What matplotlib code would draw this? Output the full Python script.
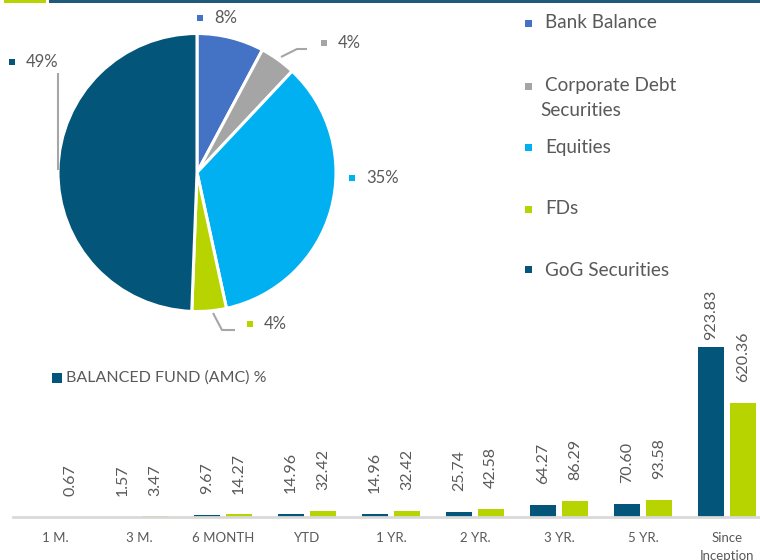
import matplotlib
matplotlib.use("Agg")
import matplotlib.pyplot as plt
from matplotlib.patches import Rectangle
import numpy as np

plt.rcParams['font.family'] = ['Lato', 'DejaVu Sans']

# ---- data ----
pie_labels = ["Bank Balance", "Corporate Debt\nSecurities", "Equities", "FDs", "GoG Securities"]
pie_values = [7.8, 4.2, 34.6, 4.0, 49.4]
pie_colors = ["#4472C4", "#A5A5A5", "#00B0F0", "#B7D400", "#03557A"]

categories = ["1 M.", "3 M.", "6 MONTH", "YTD", "1 YR.", "2 YR.", "3 YR.", "5 YR.", "Since\nInception"]
fund_values = [np.nan, 1.57, 9.67, 14.96, 14.96, 25.74, 64.27, 70.60, 923.83]
bench_values = [0.67, 3.47, 14.27, 32.42, 32.42, 42.58, 86.29, 93.58, 620.36]
fund_name = "BALANCED FUND (AMC) %"

W, H = 760, 560
fig = plt.figure(figsize=(W / 100, H / 100), dpi=100)
TXT = "#595959"

def fx(px):
    return px / W

def fy(py):
    return 1 - py / H

# top decoration
fig.add_artist(Rectangle((fx(4), fy(3)), fx(42), 3 / H, transform=fig.transFigure,
                         color="#B7D400", lw=0))
fig.add_artist(Rectangle((fx(49), fy(2.5)), fx(711), 2.5 / H, transform=fig.transFigure,
                         color="#1F5A7A", lw=0))

# ---- bar chart ----
base_py, top_py = 517, 280
left_px, step = 13, 84
bax = fig.add_axes([fx(left_px), fy(base_py), step * 9 / W, (base_py - top_py) / H])
bax.patch.set_visible(False)
bax.set_zorder(1)
x = np.arange(len(categories))
bw, off = 0.30, 0.19
scale_px = 170 / 923.83
ymax = (base_py - top_py) / scale_px
bax.bar(x - off, fund_values, bw, color="#03557A", label=fund_name)
bax.bar(x + off, bench_values, bw, color="#B7D400")
bax.set_xlim(-0.5, len(categories) - 0.5)
bax.set_ylim(0, ymax)
for s in ["top", "right", "left"]:
    bax.spines[s].set_visible(False)
bax.spines["bottom"].set_color("#D9D9D9")
bax.spines["bottom"].set_linewidth(2)
bax.set_yticks([])
bax.set_xticks(x)
bax.set_xticklabels(categories, fontsize=9.5, color=TXT, va="top", linespacing=1.55)
bax.tick_params(axis="x", length=0, pad=11)

vmax = np.nanmax(fund_values + bench_values)
for xs, vals in [(x - off, fund_values), (x + off, bench_values)]:
    for xi, v in zip(xs, vals):
        if np.isnan(v):
            continue
        offset = 5 if v >= vmax else 15
        bax.annotate(f"{v:.2f}", (xi, v), xytext=(0, offset), textcoords="offset points",
                     rotation=90, ha="center", va="bottom", fontsize=11.5, color=TXT,
                     annotation_clip=False)

# ---- pie ----
cx, cy, r = 197, 172.5, 139
pax = fig.add_axes([fx(cx - r), fy(cy + r), fx(2 * r), 2 * r / H])
pax.set_zorder(2)
pax.patch.set_visible(False)
pax.pie(pie_values, colors=pie_colors, startangle=90, counterclock=False,
        wedgeprops=dict(edgecolor="white", linewidth=2.2), radius=1)
pax.set_xlim(-1, 1)
pax.set_ylim(-1, 1)
pax.set_aspect("auto")
pax.axis("off")

def pd(px, py):
    return ((px - cx) / r, (cy - py) / r)

# leader lines
leaders = [
    [(281, 57), (297, 49), (307, 49)],
    [(213, 313), (222, 330), (235, 330)],
    [(58, 73), (58, 170)],
]
for pts in leaders:
    xs, ys = zip(*[pd(*p) for p in pts])
    pax.plot(xs, ys, color="#A6A6A6", lw=1.5, clip_on=False, solid_capstyle="butt")

label_pos = [(200, 18), (324, 43), (352, 178), (250, 324), (12, 62)]
for (mx, my), v, c in zip(label_pos, pie_values, pie_colors):
    fig.add_artist(Rectangle((fx(mx - 3), fy(my + 3)), 6 / W, 6 / H,
                             transform=fig.transFigure, color=c, lw=0))
    fig.text(fx(mx + 14), fy(my), f"{v:.0f}%", ha="left", va="center",
             fontsize=12, color=TXT)

# pie legend
leg_y = [23, 98, 147, 209, 270]
for lab, c, y in zip(pie_labels, pie_colors, leg_y):
    lines = lab.split("\n")
    first_y = y if len(lines) == 1 else 86
    fig.add_artist(Rectangle((fx(525), fy(first_y + 3.5)), 7 / W, 7 / H,
                             transform=fig.transFigure, color=c, lw=0))
    fig.text(fx(545), fy(first_y), lines[0], ha="left", va="center",
             fontsize=13.6, color=TXT)
    if len(lines) > 1:
        fig.text(fx(540), fy(111), lines[1], ha="left", va="center",
                 fontsize=13.6, color=TXT)

# bar legend
fig.add_artist(Rectangle((fx(52), fy(383)), 10 / W, 10 / H, transform=fig.transFigure,
                         color="#03557A", lw=0))
fig.text(fx(66), fy(378), fund_name, ha="left", va="center", fontsize=11.5, color=TXT)

fig.savefig("out.png", dpi=100)
